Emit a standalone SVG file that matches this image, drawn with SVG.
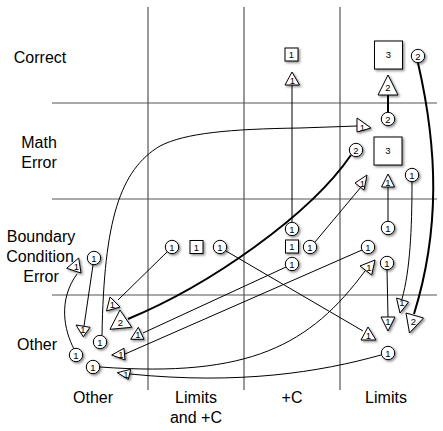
<svg xmlns="http://www.w3.org/2000/svg" width="443" height="431" viewBox="0 0 443 431">
<defs>
<filter id="sh" x="-50%" y="-50%" width="200%" height="200%">
<feDropShadow dx="1.5" dy="1.5" stdDeviation="1" flood-color="#000" flood-opacity="0.45"/>
</filter>
</defs>
<style>
.grid{stroke:#555;stroke-width:1.2;fill:none}
.lbl{font-family:"Liberation Sans",Arial,sans-serif;font-size:16px;fill:#000;text-anchor:middle}
.n{fill:#fff;stroke:#000;stroke-width:1;filter:url(#sh)}
.t{font-family:"Liberation Sans",Arial,sans-serif;font-size:9.5px;fill:#000;text-anchor:middle}
.e{fill:none;stroke:#000;stroke-width:1}
.e2{fill:none;stroke:#000;stroke-width:2}
</style>
<rect width="443" height="431" fill="#fff"/>
<g id="grid">
<line class="grid" x1="148" y1="7" x2="148" y2="390"/>
<line class="grid" x1="244" y1="7" x2="244" y2="390"/>
<line class="grid" x1="340" y1="7" x2="340" y2="390"/>
<line class="grid" x1="52" y1="103" x2="437" y2="103"/>
<line class="grid" x1="52" y1="199" x2="437" y2="199"/>
<line class="grid" x1="52" y1="295" x2="437" y2="295"/>
</g>
<g id="labels">
<text class="lbl" x="40" y="63">Correct</text>
<text class="lbl" x="39" y="148">Math</text>
<text class="lbl" x="39" y="168">Error</text>
<text class="lbl" x="41" y="242">Boundary</text>
<text class="lbl" x="40" y="262">Condition</text>
<text class="lbl" x="41" y="282">Error</text>
<text class="lbl" x="37" y="350">Other</text>
<text class="lbl" x="93" y="403">Other</text>
<text class="lbl" x="196" y="403">Limits</text>
<text class="lbl" x="196" y="423">and +C</text>
<text class="lbl" x="292" y="403">+C</text>
<text class="lbl" x="386" y="403">Limits</text>
</g>
<g id="connectors">
<path class="e" d="M292 222 L292 85"/>
<path class="e2" d="M388 112 L388 95"/>
<path class="e2" d="M418 63 C438 150,440 230,414 314"/>
<path class="e2" d="M351 155 C310 215,210 285,128 319"/>
<path class="e" d="M412 182 C412 230,410 270,402 299"/>
<path class="e" d="M388 221 L388 187"/>
<path class="e" d="M387 270 L388 317"/>
<path class="e" d="M362 250 L125 354"/>
<path class="e" d="M381 355 C320 372,240 385,130 374"/>
<path class="e" d="M315 242 L361 187"/>
<path class="e" d="M286 267 L143 333"/>
<path class="e" d="M167 252 L118 300"/>
<path class="e" d="M226 251 L363 331"/>
<path class="e" d="M93 265 L84 326"/>
<path class="e" d="M102 335 C104 220,120 170,160 146 C185 133,230 129,300 128 L357 126"/>
<path class="e" d="M74 349 C64 330,58 300,77 274"/>
<path class="e" d="M100 367 C250 378,310 345,365 271"/>
</g>
<g id="squares">
<g id="s1"><rect class="n" x="285" y="48" width="13" height="13"/><text class="t" x="291.5" y="58">1</text></g>
<g id="s2"><rect class="n" x="374.5" y="41" width="28" height="28"/><text class="t" x="388.5" y="58">3</text></g>
<g id="s3"><rect class="n" x="374" y="137" width="28" height="28"/><text class="t" x="388" y="154">3</text></g>
<g id="s4"><rect class="n" x="190" y="240.5" width="13" height="13"/><text class="t" x="196.5" y="250.5">1</text></g>
<g id="s5"><rect class="n" x="285.5" y="240" width="13" height="13"/><text class="t" x="292" y="250">1</text></g>
</g>
<g id="circles">
<g id="c1"><circle class="n" cx="418" cy="56" r="6.7"/><text class="t" x="418" y="59.5">2</text></g>
<g id="c2"><circle class="n" cx="388" cy="119" r="6.7"/><text class="t" x="388" y="122.5">2</text></g>
<g id="c3"><circle class="n" cx="356" cy="150" r="6.7"/><text class="t" x="356" y="153.5">2</text></g>
<g id="c4"><circle class="n" cx="412" cy="175" r="6.7"/><text class="t" x="412" y="178.5">1</text></g>
<g id="c5"><circle class="n" cx="388" cy="228" r="6.7"/><text class="t" x="388" y="231.5">1</text></g>
<g id="c6"><circle class="n" cx="368" cy="247" r="6.7"/><text class="t" x="368" y="250.5">1</text></g>
<g id="c7"><circle class="n" cx="387" cy="263" r="6.7"/><text class="t" x="387" y="266.5">1</text></g>
<g id="c8"><circle class="n" cx="388" cy="353" r="6.7"/><text class="t" x="388" y="356.5">1</text></g>
<g id="c9"><circle class="n" cx="292" cy="229" r="6.7"/><text class="t" x="292" y="232.5">1</text></g>
<g id="c10"><circle class="n" cx="310" cy="247" r="6.7"/><text class="t" x="310" y="250.5">1</text></g>
<g id="c11"><circle class="n" cx="292" cy="264" r="6.7"/><text class="t" x="292" y="267.5">1</text></g>
<g id="c12"><circle class="n" cx="172" cy="247" r="6.7"/><text class="t" x="172" y="250.5">1</text></g>
<g id="c13"><circle class="n" cx="220" cy="247" r="6.7"/><text class="t" x="220" y="250.5">1</text></g>
<g id="c14"><circle class="n" cx="94" cy="258" r="6.7"/><text class="t" x="94" y="261.5">1</text></g>
<g id="c15"><circle class="n" cx="100" cy="342" r="6.7"/><text class="t" x="100" y="345.5">1</text></g>
<g id="c16"><circle class="n" cx="76" cy="355" r="6.7"/><text class="t" x="76" y="358.5">1</text></g>
<g id="c17"><circle class="n" cx="93" cy="367" r="6.7"/><text class="t" x="93" y="370.5">1</text></g>
</g>
<g id="triangles">
<g id="t1"><polygon class="n" points="292,72 285,85 299.5,85"/><text class="t" x="292.5" y="84">1</text></g>
<g id="t2"><polygon class="n" points="388,75 378,95 398,95"/><text class="t" x="388" y="91">2</text></g>
<g id="t3"><polygon class="n" points="357,118 357,132 371,128"/><text class="t" x="362.5" y="130.5">1</text></g>
<g id="t4"><polygon class="n" points="367,175 355,183 364,190"/><text class="t" x="362.5" y="187">1</text></g>
<g id="t5"><polygon class="n" points="388,174 381.5,187 394.5,187"/><text class="t" x="388" y="186">1</text></g>
<g id="t6"><polygon class="n" points="396.5,298 408.5,302 400,313"/><text class="t" x="402" y="306">1</text></g>
<g id="t7"><polygon class="n" points="381,317 395,317 388,331"/><text class="t" x="388" y="325">1</text></g>
<g id="t8"><polygon class="n" points="406,313 423.5,318 409.5,333"/><text class="t" x="413.5" y="325">2</text></g>
<g id="t9"><polygon class="n" points="368,327 361,340 376,340"/><text class="t" x="368.5" y="339">1</text></g>
<g id="t10"><polygon class="n" points="110,297 106.5,311 120,307"/><text class="t" x="112.5" y="308">1</text></g>
<g id="t11"><polygon class="n" points="120,310 110,329.3 131.7,327.3"/><text class="t" x="120.5" y="326">2</text></g>
<g id="t12"><polygon class="n" points="138.3,327.3 130.7,339.3 144,339.3"/><text class="t" x="138" y="338">1</text></g>
<g id="t13"><polygon class="n" points="111.7,355 124,348.3 125,360"/><text class="t" x="121" y="358">1</text></g>
<g id="t14"><polygon class="n" points="117.3,372.7 130.7,369.3 128.3,379.3"/><text class="t" x="126" y="377.5">1</text></g>
<g id="t15"><polygon class="n" points="76,325 90,327.3 83.3,336.7"/><text class="t" x="83" y="333">1</text></g>
<g id="t16"><polygon class="n" points="66.7,268.3 78.7,258 81,273"/><text class="t" x="76.5" y="270">1</text></g>
<g id="t17"><polygon class="n" points="360,266 375,260 371.7,275"/><text class="t" x="369" y="271">1</text></g>
</g>
</svg>
